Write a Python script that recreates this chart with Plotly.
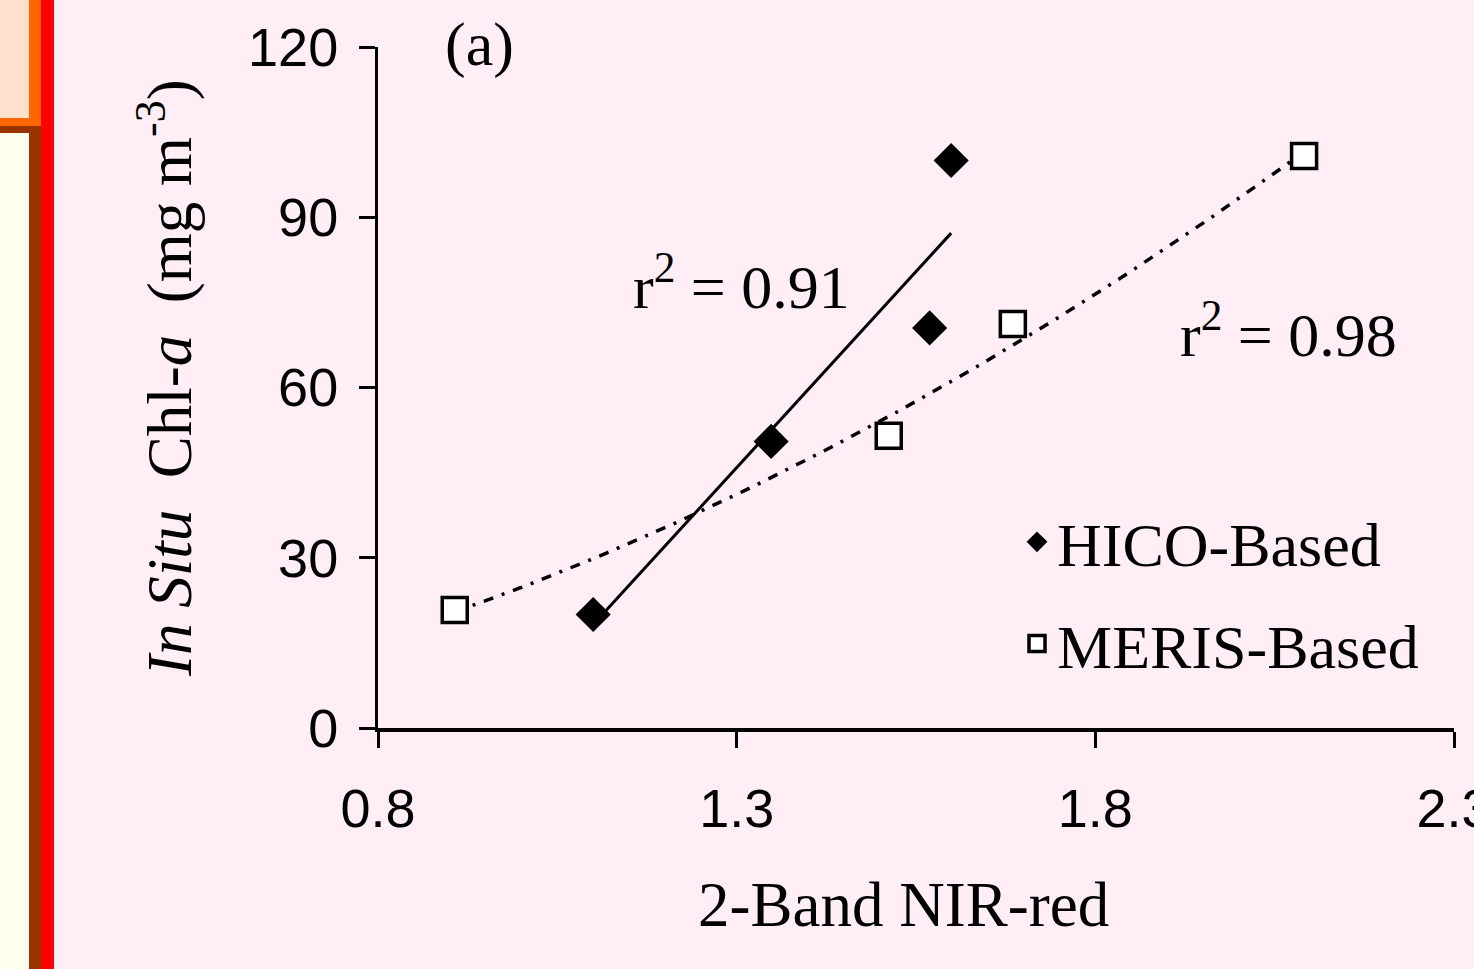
import numpy as np
import plotly.graph_objects as go

# Data
hico_x = [1.10, 1.348, 1.569, 1.599]
hico_y = [20.0, 50.5, 70.5, 100.0]
meris_x = [0.907, 1.512, 1.685, 2.091]
meris_y = [20.8, 51.5, 71.2, 100.8]

x_ticks = [0.8, 1.3, 1.8, 2.3]
x_tick_labels = ["0.8", "1.3", "1.8", "2.3"]
y_ticks = [0, 30, 60, 90, 120]
y_tick_labels = ["0", "30", "60", "90", "120"]

# Trendlines (least squares fits of the data)
hc = np.polyfit(hico_x, hico_y, 1)
hx = np.array([min(hico_x), max(hico_x)])
hy = np.polyval(hc, hx)
mc = np.polyfit(meris_x, meris_y, 2)
mx = np.linspace(min(meris_x), max(meris_x), 80)
my = np.polyval(mc, mx)

SERIF = "Liberation Serif, Times New Roman, serif"
SANS = "Liberation Sans, Arial, sans-serif"
BG = "#FFEEF6"

fig = go.Figure()
fig.add_trace(go.Scatter(x=hx, y=hy, mode="lines", line=dict(color="black", width=3),
                         showlegend=False, hoverinfo="skip"))
fig.add_trace(go.Scatter(x=mx, y=my, mode="lines",
                         line=dict(color="black", width=3.5, dash="10px,9px,3px,9px"),
                         showlegend=False, hoverinfo="skip"))
fig.add_trace(go.Scatter(x=hico_x, y=hico_y, mode="markers", name="HICO-Based",
                         legendgroup="a",
                         marker=dict(symbol="diamond", size=27, color="black",
                                     line=dict(width=0))))
fig.add_trace(go.Scatter(x=meris_x, y=meris_y, mode="markers", name="MERIS-Based",
                         legendgroup="b",
                         marker=dict(symbol="square", size=25, color="white",
                                     line=dict(color="black", width=3.5))))

# Plot area geometry (pixels) used to place the page decorations
L, R, T, B = 378, 1454, 47, 728
W, H = R - L, B - T
def px(v):
    return (v - L) / W
def py(v):
    return (B - v) / H

shapes = []
def rect(x0, y0, x1, y1, color):
    shapes.append(dict(type="rect", xref="paper", yref="paper",
                       x0=px(x0), x1=px(x1), y0=py(y1), y1=py(y0),
                       fillcolor=color, line=dict(width=0), layer="below"))
rect(0, 0, 29, 118, "#FFE0CC")
rect(0, 118, 41, 126, "#FF6600")
rect(29, 0, 41, 126, "#FF6600")
rect(0, 126, 41, 133, "#993300")
rect(29, 126, 41, 969, "#993300")
rect(0, 133, 29, 969, "#FFFFEE")
rect(41, 0, 54, 969, "#FF0000")

def ann(text, x, y, size=62, angle=0):
    return dict(text=text, x=px(x), y=py(y), xref="paper", yref="paper",
                xanchor="center", yanchor="middle", textangle=angle,
                showarrow=False, font=dict(family=SERIF, size=size, color="black"))

annotations = [
    ann("(a)", 479, 45),
    ann("r<sup>2</sup> = 0.91", 741, 282),
    ann("r<sup>2</sup> = 0.98", 1288, 330),
    ann("2-Band NIR-red", 903, 905, 63),
    ann("<i>In Situ</i>  Chl-<i>a</i>  (mg m<sup>-3</sup>)", 165, 378, 63, -90),
]

fig.update_layout(
    width=1474, height=969,
    margin=dict(l=L, r=1474 - R, t=T, b=969 - B, pad=0, autoexpand=False),
    paper_bgcolor=BG, plot_bgcolor=BG,
    shapes=shapes, annotations=annotations,
    showlegend=True,
    legend=dict(x=px(1017), y=py(495), xanchor="left", yanchor="top",
                bgcolor="rgba(0,0,0,0)", font=dict(family=SERIF, size=62, color="black"),
                traceorder="grouped", tracegroupgap=18, itemwidth=30),
    xaxis=dict(range=[0.8, 2.3], tickvals=x_ticks, ticktext=x_tick_labels,
               showgrid=False, zeroline=False, showline=True, linecolor="black",
               linewidth=4, ticks="outside", ticklen=16, tickwidth=3, tickcolor="black",
               ticklabeloverflow="allow", ticklabelstandoff=14, automargin=False,
               tickfont=dict(family=SANS, size=54, color="black")),
    yaxis=dict(range=[0, 120], tickvals=y_ticks, ticktext=y_tick_labels,
               showgrid=False, zeroline=False, showline=True, linecolor="black",
               linewidth=3, ticks="outside", ticklen=16, tickwidth=3, tickcolor="black",
               ticklabelstandoff=10, automargin=False,
               tickfont=dict(family=SANS, size=54, color="black")),
)

fig.write_html("out.html")
